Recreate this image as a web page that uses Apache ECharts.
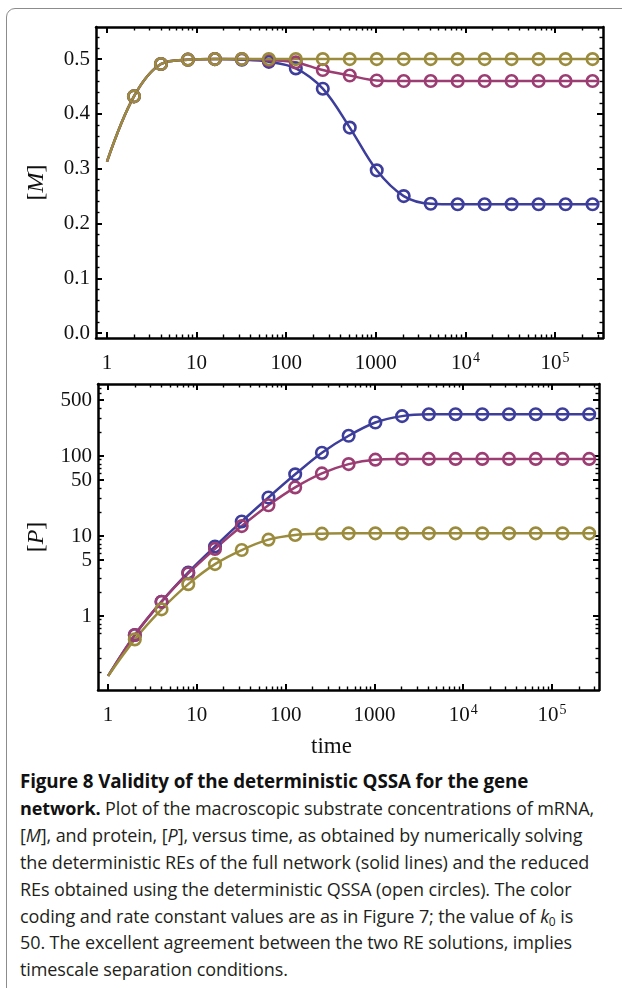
<!DOCTYPE html>
<html><head><meta charset="utf-8">
<script src="https://cdn.jsdelivr.net/npm/echarts@6/dist/echarts.min.js"></script>
<style>
html,body{margin:0;padding:0;background:#fff;width:622px;height:988px;overflow:hidden;}
#frame{position:absolute;left:6px;top:8px;width:660px;height:1010px;border:1.5px solid #8c8c8c;border-radius:9px;box-sizing:border-box;}
#chart{position:absolute;left:0;top:0;width:622px;height:765px;}
#cap{position:absolute;left:20px;top:768px;width:600px;font-family:'Open Sans';font-size:18px;line-height:26.9px;color:#231f20;white-space:nowrap;letter-spacing:-0.1px;}
#cap b{font-weight:700;color:#111;}
#cap .h{font-size:18.8px;}
#cap sub{font-size:12px;line-height:0;vertical-align:-3px;}
</style></head>
<body>
<div id="frame"></div>
<div id="chart"></div>
<div id="cap"><b class="h">Figure 8 Validity of the deterministic QSSA for the gene</b><br><b>network.</b> Plot of the macroscopic substrate concentrations of mRNA,<br>[<i>M</i>], and protein, [<i>P</i>], versus time, as obtained by numerically solving<br>the deterministic REs of the full network (solid lines) and the reduced<br>REs obtained using the deterministic QSSA (open circles). The color<br>coding and rate constant values are as in Figure 7; the value of <i>k</i><sub>0</sub> is<br>50. The excellent agreement between the two RE solutions, implies<br>timescale separation conditions.</div>
<script>
// ---- data ----
const times = [1, 2, 4, 8, 16, 32, 64, 128, 256, 512, 1024, 2048, 4096, 8192, 16384, 32768, 65536, 131072, 262144, 300000];
const mBlue    = [0.313, 0.432, 0.491, 0.499, 0.500, 0.499, 0.495, 0.483, 0.446, 0.375, 0.297, 0.250, 0.236, 0.235, 0.235, 0.235, 0.235, 0.235, 0.235, 0.235];
const mMagenta = [0.313, 0.432, 0.491, 0.499, 0.500, 0.500, 0.498, 0.494, 0.480, 0.470, 0.461, 0.460, 0.460, 0.460, 0.460, 0.460, 0.460, 0.460, 0.460, 0.460];
const mGold    = [0.313, 0.432, 0.491, 0.499, 0.500, 0.500, 0.500, 0.500, 0.500, 0.500, 0.500, 0.500, 0.500, 0.500, 0.500, 0.500, 0.500, 0.500, 0.500, 0.500];
const pBlue    = [0.178, 0.58, 1.51, 3.5, 7.4, 15.2, 30.3, 59, 110, 179, 262, 315, 332, 333, 333, 333, 333, 333, 333, 333];
const pMagenta = [0.178, 0.58, 1.51, 3.4, 6.9, 13.3, 24.2, 40.5, 60.6, 79.2, 90, 91.7, 92, 92, 92, 92, 92, 92, 92, 92];
const pGold    = [0.178, 0.51, 1.21, 2.5, 4.45, 6.68, 9.0, 10.3, 10.7, 10.8, 10.8, 10.8, 10.8, 10.8, 10.8, 10.8, 10.8, 10.8, 10.8, 10.8];
const xMajorTicks = [1, 10, 100, 1000, 10000, 100000];
const xTickLabels = ['{b|1}', '{b|10}', '{b|100}', '{b|1000}', '{b|10}{s|4}', '{b|10}{s|5}'];
const mMajorTicks = [0, 0.1, 0.2, 0.3, 0.4, 0.5];
const mTickLabels = ['{b|0.0}', '{b|0.1}', '{b|0.2}', '{b|0.3}', '{b|0.4}', '{b|0.5}'];
const pMajorTicks = [1, 5, 10, 50, 100, 500];
const pTickLabels = ['{b|1}', '{b|5}', '{b|10}', '{b|50}', '{b|100}', '{b|500}'];
const colors = {blue: '#3d3d9b', magenta: '#9b3d72', gold: '#9b8b3d'};

// ---- helpers ----
const L = Math.log10;
const xMinor = [];
for (let d = 0; d <= 5; d++) for (let m = 2; m <= 9; m++) { const v = m * Math.pow(10, d); if (v < 340000) xMinor.push(v); }
const mMinor = [];
for (let k = 1; k <= 27; k++) { if (k % 5) mMinor.push(k * 0.02); }
const pMinor = [];
for (let d = -1; d <= 2; d++) for (let m = 2; m <= 9; m++) { if (m !== 5) { const v = m * Math.pow(10, d); if (v > 0.12 && v < 790) pMinor.push(v); } }

const FONT = 'Liberation Serif';
const tickStyle = {color: '#000', width: 2};
function labelFmt(vals, labels) {
  return function (v) {
    let best = 0, bd = Infinity;
    vals.forEach((t, i) => { const d = Math.abs(t - v); if (d < bd) { bd = d; best = i; } });
    return labels[best];
  };
}
const richLab = {
  b: {fontFamily: FONT, fontSize: 21, color: '#111', lineHeight: 24},
  s: {fontFamily: FONT, fontSize: 14, color: '#111', lineHeight: 24, verticalAlign: 'top', padding: [0, 0, 10, 1]}
};
function axesSet(dim, grid, min, max, majors, minors, labels, extra) {
  const pos = dim === 'x' ? ['bottom', 'top'] : ['left', 'right'];
  const base = {type: 'value', gridIndex: grid, min: min, max: max, splitLine: {show: false}, scale: true};
  const maj = majors.map(v => extra.tr(v));
  const mins = minors.map(v => extra.tr(v));
  const a0 = Object.assign({}, base, {
    position: pos[0],
    axisLine: {show: true, onZero: false, lineStyle: {color: '#000', width: 2.5}},
    axisTick: {show: true, inside: true, length: 6, lineStyle: tickStyle, customValues: maj},
    axisLabel: {show: true, customValues: maj, margin: extra.margin, formatter: labelFmt(maj, labels), rich: richLab}
  }, extra.name || {});
  const a1 = Object.assign({}, base, {
    position: pos[1],
    axisLine: {show: true, onZero: false, lineStyle: {color: '#000', width: 2.5}},
    axisTick: {show: true, inside: true, length: 6, lineStyle: tickStyle, customValues: maj},
    axisLabel: {show: false}
  });
  const mk = p => Object.assign({}, base, {
    position: p,
    axisLine: {show: false, onZero: false},
    axisTick: {show: true, inside: true, length: 3.5, lineStyle: {color: '#000', width: 1.4}, customValues: mins},
    axisLabel: {show: false}
  });
  return [a0, a1, mk(pos[0]), mk(pos[1])];
}
const ident = v => v;
const nameStyle = {fontFamily: FONT, fontSize: 24, color: '#111', rich: {i: {fontFamily: FONT, fontSize: 24, fontStyle: 'italic', color: '#111'}}};

const xAxis = [].concat(
  axesSet('x', 0, L(0.754), L(343000), xMajorTicks, xMinor, xTickLabels, {tr: L, margin: 13}),
  axesSet('x', 1, L(0.77), L(338000), xMajorTicks, xMinor, xTickLabels, {tr: L, margin: 13,
    name: {name: 'time', nameLocation: 'middle', nameGap: 45, nameTextStyle: {fontFamily: FONT, fontSize: 23, color: '#111', padding: [0, 34, 0, 0]}}})
);
const yAxis = [].concat(
  axesSet('y', 0, -0.009, 0.5586, mMajorTicks, mMinor, mTickLabels, {tr: ident, margin: 6,
    name: {name: '[{i|M}]', nameLocation: 'middle', nameGap: 47, nameRotate: 90, nameTextStyle: nameStyle}}),
  axesSet('y', 1, -0.925, 2.9, pMajorTicks, pMinor, pTickLabels, {tr: L, margin: 6,
    name: {name: '[{i|P}]', nameLocation: 'middle', nameGap: 49, nameRotate: 90, nameTextStyle: nameStyle}})
);

function mkData(vals, logY) {
  return times.map((t, i) => {
    const v = [L(t), logY ? L(vals[i]) : vals[i]];
    return (i === 0 || i === times.length - 1) ? {value: v, symbol: 'none'} : v;
  });
}
function mkSeries(vals, color, grid, logY) {
  return {
    type: 'line', xAxisIndex: grid * 4, yAxisIndex: grid * 4,
    data: mkData(vals, logY), smooth: 0.35, symbol: 'circle', symbolSize: 11.5,
    lineStyle: {color: color, width: 2.5},
    itemStyle: {color: 'rgba(255,255,255,0)', borderColor: color, borderWidth: 2.6},
    emphasis: {disabled: true}, silent: true
  };
}
const series = [
  mkSeries(mBlue, colors.blue, 0, false),
  mkSeries(mMagenta, colors.magenta, 0, false),
  mkSeries(mGold, colors.gold, 0, false),
  mkSeries(pBlue, colors.blue, 1, true),
  mkSeries(pMagenta, colors.magenta, 1, true),
  mkSeries(pGold, colors.gold, 1, true)
];

const chart = echarts.init(document.getElementById('chart'), null, {renderer: 'canvas'});
chart.setOption({
  animation: false,
  grid: [
    {left: 96, top: 27, width: 507, height: 311, containLabel: false},
    {left: 98, top: 384, width: 501, height: 306, containLabel: false}
  ],
  xAxis: xAxis,
  yAxis: yAxis,
  series: series
});
</script>
</body></html>
